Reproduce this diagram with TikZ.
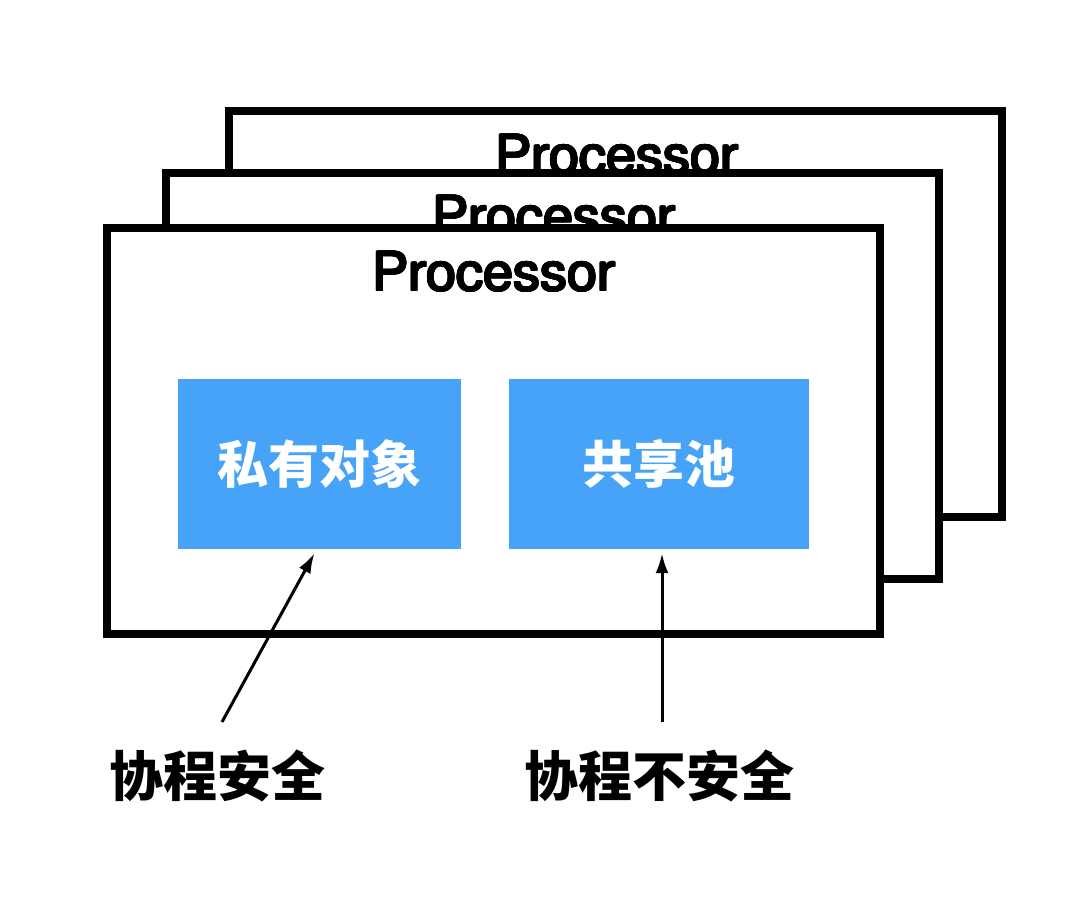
\documentclass[tikz,border=0pt]{standalone}
\usepackage{fontspec}
\setmainfont{TeX Gyre Heros}
\newfontfamily\procfont{TeX Gyre Heros}
\newfontfamily\cjk{Noto Sans CJK SC}
\usepackage{contour}
\contourlength{0.7pt}
\contournumber{16}
\usetikzlibrary{arrows.meta}
\definecolor{blockblue}{RGB}{70,163,247}
\tikzset{
  procbox/.style={draw=black, fill=white, line width=8pt, minimum width=773pt, minimum height=406pt, inner sep=0pt},
  proctext/.style={font=\procfont\fontsize{54}{54}\selectfont, anchor=base, inner sep=0pt},
  bluebox/.style={fill=blockblue, draw=none, minimum height=170pt, inner sep=0pt,
     text=white, font=\cjk\bfseries\fontsize{51}{51}\selectfont},
  bottomlabel/.style={font=\cjk\bfseries\fontsize{54}{54}\selectfont, inner sep=0pt},
  pointer/.style={line width=3pt, -{Latex[length=20pt,width=13pt]}}
}
\begin{document}
\begin{tikzpicture}[x=1pt,y=-1pt]
\useasboundingbox (0,0) rectangle (1092,900);
\fill[white] (0,0) rectangle (1092,900);
% back
\node[procbox] (back) at (615,313.5) {};
\node[proctext] (backtext) at (617,174) {\contour{black}{Processor}};
% middle
\node[procbox] (mid) at (552.5,375.5) {};
\node[proctext] (midtext) at (554,235) {\contour{black}{Processor}};
% front
\node[procbox] (front) at (493,431) {};
\node[proctext] (fronttext) at (494,291) {\contour{black}{Processor}};
% blue blocks
\node[bluebox, minimum width=283pt] (priv) at (319.5,464) {私有对象};
\node[bluebox, minimum width=300pt] (pool) at (659,464) {共享池};
% labels
\node[bottomlabel] (safe) at (217,776) {协程安全};
\node[bottomlabel] (unsafe) at (659,776) {协程不安全};
% arrows
\coordinate (s1) at (222,722);
\coordinate (s2) at (662,722);
\draw[pointer] (s1) -- ([xshift=-5pt,yshift=-4pt]priv.south);
\draw[pointer] (s2) -- ([xshift=3pt,yshift=-4pt]pool.south);
\end{tikzpicture}
\end{document}
